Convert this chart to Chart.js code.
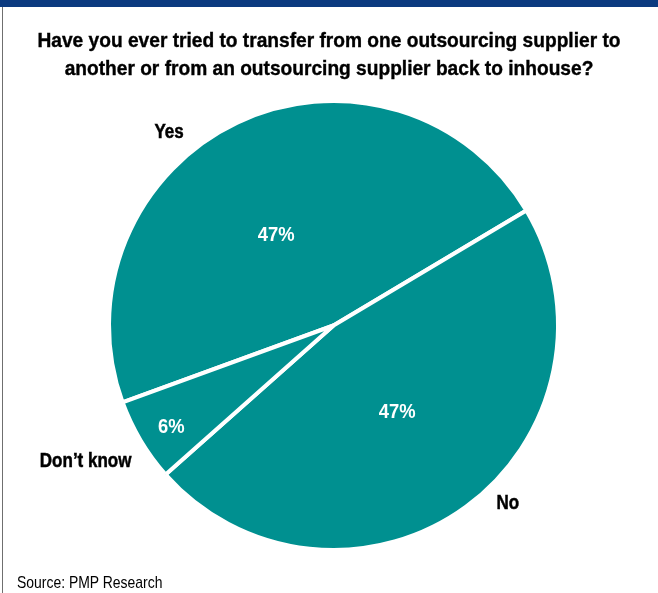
<!DOCTYPE html>
<html>
<head>
<meta charset="utf-8">
<script src="https://cdn.jsdelivr.net/npm/chart.js@4"></script>
<style>
  html, body { margin: 0; padding: 0; background: #fff; }
  #wrap { position: relative; width: 658px; height: 593px; overflow: hidden; }
  #band { position: absolute; left: 0; top: 0; width: 658px; height: 7px; background: #0b3a7f; }
  #edge { position: absolute; left: 2px; top: 7px; width: 1px; height: 586px; background: #6f6f6f; }
  #title {
    position: absolute; left: 0; top: 26px; width: 658px; text-align: center;
    font-family: "Liberation Sans", Arial, sans-serif;
    font-weight: bold; font-size: 21px; line-height: 28px; color: #000;
    -webkit-text-stroke: 0.4px #000;
    transform-origin: 329px 0;
  }
  #source {
    position: absolute; left: 17px; top: 573px;
    font-family: "Liberation Sans", Arial, sans-serif;
    font-size: 17px; color: #000; white-space: nowrap;
    transform: scaleX(0.82); transform-origin: 0 0;
  }
  canvas { position: absolute; left: 0; top: 0; }
</style>
</head>
<body>
<div id="wrap">
  <canvas id="pie" width="658" height="593"></canvas>
  <div id="band"></div>
  <div id="edge"></div>
  <div id="title"><span id="t1">Have you ever tried to transfer from one outsourcing supplier to</span><br><span>another or from an outsourcing supplier back to inhouse?</span></div>
  <div id="source">Source: PMP Research</div>
</div>
<script>
const categories = ['Yes', 'No', 'Don\u2019t know'];
const shares = [47, 47, 6];
const shareLabels = shares.map(v => v + '%');

const FONT = '"Liberation Sans", Arial, sans-serif';

// squeeze the title into a narrow look: first line spans about 583px
const t1 = document.getElementById('t1');
const squeeze = Math.min(1, 583 / t1.getBoundingClientRect().width);
document.getElementById('title').style.transform = 'scaleX(' + squeeze + ')';

// polar placement of the texts, relative to each slice's middle angle
const pctPlace = [
  { shift: -7, frac: 0.48 },
  { shift: 0, frac: 0.485 },
  { shift: -1.3, frac: 0.86 }
];
const namePlace = [
  { shift: -15, frac: 1.14 },
  { shift: -8.2, frac: 1.12 },
  { shift: 2.1, frac: 1.27 }
];

function narrowText(ctx, text, x, y, sx, stroke) {
  ctx.save();
  ctx.translate(x, y);
  ctx.scale(sx, 1);
  ctx.fillText(text, 0, 0);
  if (stroke) {
    ctx.lineWidth = 0.5;
    ctx.strokeStyle = ctx.fillStyle;
    ctx.strokeText(text, 0, 0);
  }
  ctx.restore();
}

const sliceLabels = {
  id: 'sliceLabels',
  afterDatasetsDraw(chart) {
    const ctx = chart.ctx;
    const arcs = chart.getDatasetMeta(0).data;
    const r = 222.5;
    ctx.save();
    ctx.textAlign = 'center';
    ctx.textBaseline = 'middle';
    arcs.forEach((arc, i) => {
      const mid = (arc.startAngle + arc.endAngle) / 2;
      const spot = place => {
        const a = mid + place.shift * Math.PI / 180;
        return [arc.x + Math.cos(a) * r * place.frac, arc.y + Math.sin(a) * r * place.frac];
      };
      let [px, py] = spot(pctPlace[i]);
      ctx.font = 'bold 20px ' + FONT;
      ctx.fillStyle = '#fff';
      narrowText(ctx, shareLabels[i], px, py, 0.92, false);
      [px, py] = spot(namePlace[i]);
      ctx.fillStyle = '#000';
      narrowText(ctx, categories[i], px, py, 0.85, true);
    });
    ctx.restore();
  }
};

new Chart(document.getElementById('pie'), {
  type: 'pie',
  data: {
    labels: categories,
    datasets: [{
      data: shares,
      backgroundColor: '#009090',
      borderColor: '#ffffff',
      borderWidth: 4,
      hoverOffset: 0
    }]
  },
  options: {
    responsive: false,
    devicePixelRatio: 1,
    animation: false,
    rotation: 250,
    radius: 224.5,
    layout: { padding: { left: 103.5, right: 94.5, top: 95.5, bottom: 37.5 } },
    plugins: {
      legend: { display: false },
      tooltip: { enabled: false }
    }
  },
  plugins: [sliceLabels]
});
</script>
</body>
</html>
